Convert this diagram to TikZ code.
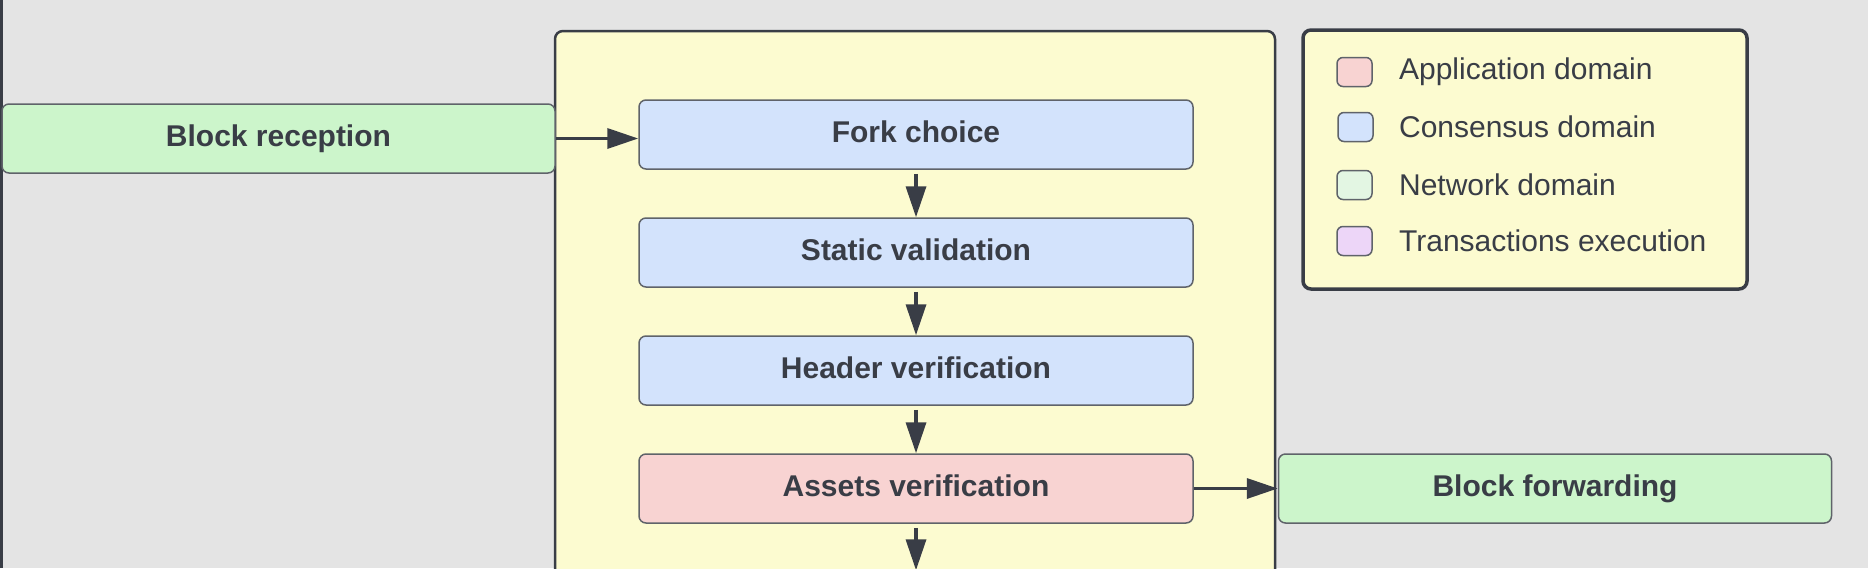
\documentclass[tikz,border=0pt]{standalone}
\usepackage{fontspec}
\setmainfont{Liberation Sans}
\usetikzlibrary{positioning,arrows.meta}
\definecolor{bgray}{HTML}{E4E4E4}
\definecolor{ink}{HTML}{393D46}
\definecolor{edge}{HTML}{5F636A}
\definecolor{paneyellow}{HTML}{FCFBD0}
\definecolor{consblue}{HTML}{D3E3FC}
\definecolor{apppink}{HTML}{F8D3D2}
\definecolor{netgreen}{HTML}{CCF5CB}
\definecolor{netpale}{HTML}{E3F6E3}
\definecolor{txpurple}{HTML}{EDD6F8}
\tikzstyle{stepnode}=[rectangle, rounded corners=0.14cm, draw=edge, line width=0.03cm, fill=consblue, minimum width=11.08cm, minimum height=1.38cm, inner sep=0pt, text height=0.44cm, text depth=0.12cm, text=ink, font=\fontsize{17.07}{20}\selectfont\bfseries]
\tikzstyle{netnode}=[stepnode, fill=netgreen, minimum width=11.06cm]
\tikzstyle{swatch}=[rectangle, rounded corners=0.12cm, draw=edge, line width=0.03cm, minimum width=0.70cm, minimum height=0.58cm, inner sep=0pt]
\tikzstyle{legendtext}=[inner sep=0pt, text=ink, font=\fontsize{17.07}{20}\selectfont]
\tikzstyle{flow}=[-{Triangle[length=0.62cm,width=0.40cm]}, line width=0.07cm, draw=ink]

\begin{document}
\begin{tikzpicture}
\clip (0,0) rectangle (37.36,11.36);
\fill[bgray] (0,0) rectangle (37.36,11.36);
\draw[ink, line width=0.06cm] (0.02,0) -- (0.02,11.36);
%Panels
\draw[ink, line width=0.05cm, fill=paneyellow, rounded corners=0.16cm] (11.10,-1) rectangle (25.50,10.74);
\draw[ink, line width=0.07cm, fill=paneyellow, rounded corners=0.16cm] (26.06,5.58) rectangle (34.94,10.76);
  \begin{scope}[node distance=0.93cm and 1.68cm]
%Nodes
\node[stepnode]                (fork)   at (18.32,8.67)       {Fork choice};
\node[stepnode]                (static) [below=0.95cm of fork]   {Static validation};
\node[stepnode]                (header) [below=0.95cm of static] {Header verification};
\node[stepnode, fill=apppink]  (assets) [below=0.95cm of header] {Assets verification};
\node[stepnode, fill=paneyellow] (next) [below=of assets]    {};
\node[netnode]                 (recv)   at (5.57,8.59)        {Block reception};
\node[netnode]                 (fwd)    [right=of assets]     {Block forwarding};
%Legend
\node[swatch, fill=apppink]    (sw1) at (27.09,9.92) {};
\node[swatch, fill=consblue]   (sw2) at (27.11,8.82) {};
\node[swatch, fill=netpale]    (sw3) at (27.09,7.66) {};
\node[swatch, fill=txpurple]   (sw4) at (27.09,6.54) {};
\node[legendtext] (app)  [right=0.52cm of sw1] {Application domain};
\node[legendtext] (cons) [right=0.50cm of sw2] {Consensus domain};
\node[legendtext] (net)  [right=0.52cm of sw3] {Network domain};
\node[legendtext] (tx)   [right=0.52cm of sw4] {Transactions execution};
%Lines
\draw[flow] (recv.east) -- (recv.east -| fork.west);
\draw[flow, shorten <=0.08cm] (fork) -- (static);
\draw[flow, shorten <=0.08cm] (static) -- (header);
\draw[flow, shorten <=0.08cm] (header) -- (assets);
\draw[flow, shorten <=0.08cm] (assets) -- (next);
\draw[flow] (assets) -- (fwd);
  \end{scope}
\end{tikzpicture}
\end{document}
